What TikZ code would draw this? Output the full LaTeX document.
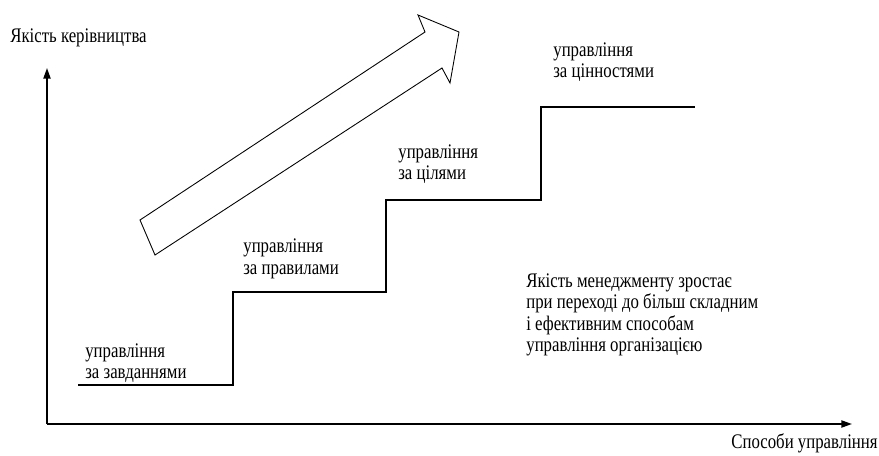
\documentclass[tikz,border=0pt]{standalone}
\usepackage{fontspec}
\setmainfont{Liberation Serif}[FakeStretch=0.81]
\usetikzlibrary{arrows.meta}
\begin{document}
\begin{tikzpicture}[x=0.02cm, y=-0.02cm, axis/.style = {line width=1pt, -{Triangle[length=6pt,width=4pt]}}, stair/.style = {line width=1.2pt}, lbl/.style = {anchor=west, align=left, inner sep=0pt, font=\fontsize{11.8}{12.2}\selectfont}]
	\useasboundingbox (0,0) rectangle (879,456);
	
	\coordinate (o) at (47,424);
	\coordinate (ytop) at (47,68);
	\coordinate (xend) at (852,424);
	
	\draw[axis] (o) -- (ytop);
	\draw[axis] (o) -- (xend);
	
	\node[lbl] (ylabel) at (10,38) {Якість керівництва};
	\node[lbl, anchor=east] (xlabel) at (878,443) {Способи управління};
	
	% steps
	\draw[stair] (78,385) -- (233,385) -- (233,292) -- (386,292) -- (386,200) -- (541,200) -- (541,107) -- (695,107);
	
	\node[lbl] (s1) at (85,363) {управління\\за завданнями};
	\node[lbl] (s2) at (243,259) {управління\\за правилами};
	\node[lbl] (s3) at (398,164) {управління\\за цілями};
	\node[lbl] (s4) at (553,62) {управління\\за цінностями};
	
	% big arrow
	\draw[line width=0.5pt] (140,220) -- (425,32) -- (418,15) -- (459,32) -- (450,83) -- (442,68) -- (155,255) -- cycle;
	
	\node[lbl] (note) at (526,315) {Якість менеджменту зростає\\при переході до більш складним\\і ефективним способам\\управління організацією};
	
\end{tikzpicture}
\end{document}
